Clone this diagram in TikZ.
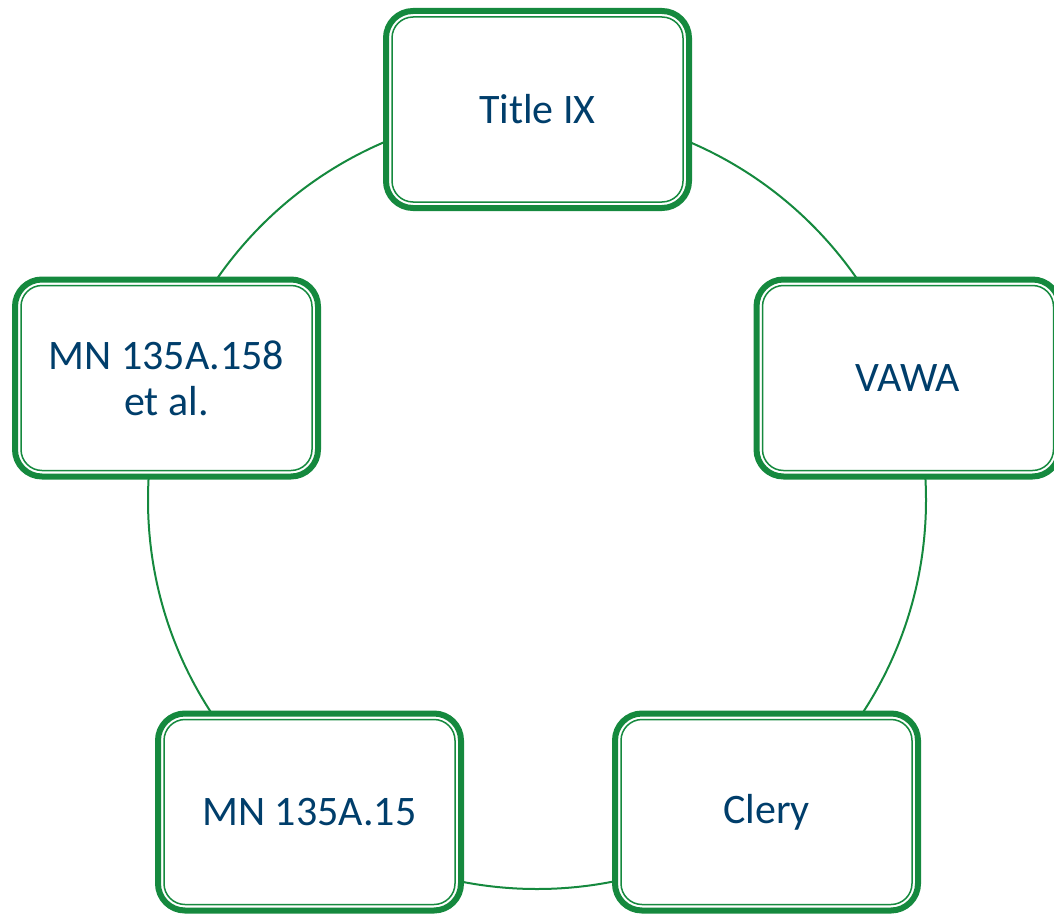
\documentclass[tikz,border=0pt]{standalone}
\usepackage{fontspec}
\setmainfont{Carlito}
\definecolor{grn}{RGB}{21,137,62}
\definecolor{txt}{RGB}{0,62,107}
\tikzset{
  panel/.style={draw=grn, line width=6pt, fill=white, rounded corners=27pt,
    minimum width=303pt, minimum height=197pt, inner sep=0pt, align=center,
    text=txt, font=\fontsize{42}{46}\selectfont},
  innerbox/.style={draw=grn, line width=1.5pt, rounded corners=21pt,
    minimum width=291pt, minimum height=185pt, inner sep=0pt},
  ring/.style={draw=grn, line width=2pt}
}
\begin{document}
\begin{tikzpicture}[x=1pt,y=-1pt]
\useasboundingbox (0,0) rectangle (1054,915);
\coordinate (o) at (537,500);
\draw[ring] (o) circle (389pt);
\node[panel] (t) at (537.5,109.5) {Title IX};
\node[panel] (v) at (908,378) {VAWA};
\node[panel] (m) at (166.5,378) {MN 135A.158\\et al.};
\node[panel] (k) at (309.5,812) {MN 135A.15};
\node[panel] (c) at (766.5,812) {Clery};
\foreach \n in {t,v,m,k,c}
  \node[innerbox] (\n-in) at (\n.center) {};
\end{tikzpicture}
\end{document}
